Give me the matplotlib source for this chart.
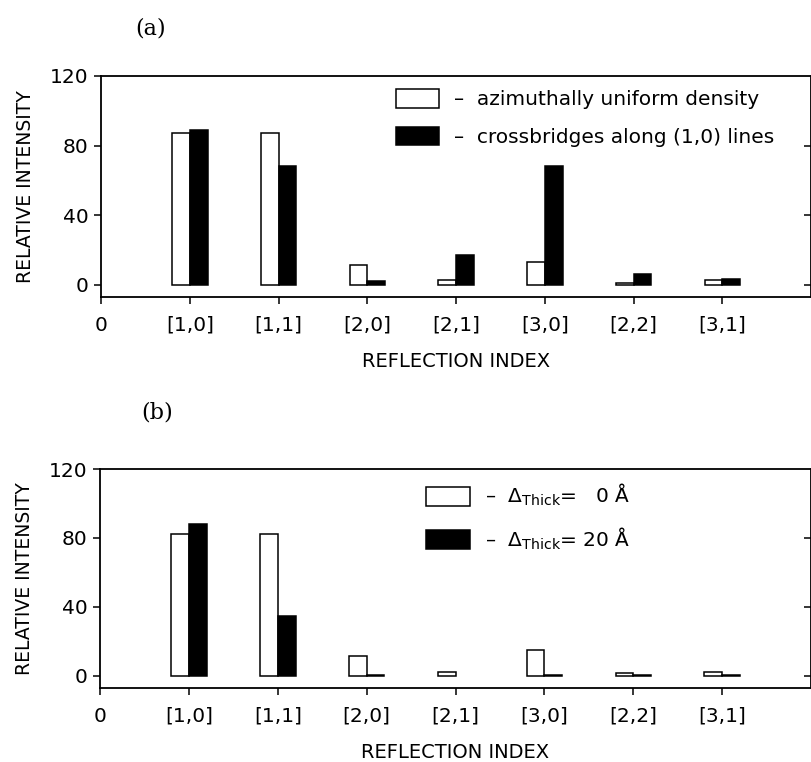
import numpy as np
import matplotlib
matplotlib.use("Agg")
import matplotlib.pyplot as plt
from matplotlib.patches import Patch

plt.rcParams['font.family'] = ['DejaVu Sans']
plt.rcParams['mathtext.fontset'] = 'dejavusans'

# reflection indices (x = 1..7), "0" sits on the left spine
tick_labels = ["0", "[1,0]", "[1,1]", "[2,0]", "[2,1]", "[3,0]", "[2,2]", "[3,1]"]

# panel (a)
a_uniform = [87, 87, 11.5, 2.5, 13, 1, 2.5]
a_cross = [89, 68, 2, 17, 68, 6, 3.5]

# panel (b)
b_thick0 = [82.5, 82.5, 11.5, 2, 15, 1.7, 2]
b_thick20 = [88, 35, 0.8, 0, 0.5, 0.4, 0.6]

labels_a = ["–  azimuthally uniform density", "–  crossbridges along (1,0) lines"]
labels_b = [r"–  $\Delta_{\rm Thick}$=   0 Å", r"–  $\Delta_{\rm Thick}$= 20 Å"]

W = 0.2
fig = plt.figure(figsize=(8.12, 7.62), dpi=100)


def panel(rect, white, black, labels, leg_x, tag, tag_xy):
    ax = fig.add_axes(rect)
    x = np.arange(1, len(white) + 1)
    ax.bar(x - W / 2, white, W, color='white', edgecolor='black', linewidth=1.1)
    lw = [1.1 if v > 0 else 0 for v in black]
    ax.bar(x + W / 2, black, W, color='black', edgecolor='black', linewidth=lw)

    ax.set_xlim(0, 8)
    ax.set_ylim(-7, 120)
    ax.set_xticks(range(len(tick_labels)))
    ax.set_xticklabels(tick_labels)
    ax.set_yticks([0, 40, 80, 120])
    ax.tick_params(axis='both', direction='out', length=5, width=1.1, labelsize=14.5)
    ax.tick_params(axis='x', pad=8.5)
    ax.tick_params(axis='y', pad=4)
    for s in ax.spines.values():
        s.set_linewidth(1.3)

    sec = ax.secondary_yaxis('right')
    sec.set_yticks([0, 40, 80])
    sec.tick_params(direction='in', length=5, width=1.1, labelright=False)

    ax.set_ylabel("RELATIVE INTENSITY", fontsize=13.5, labelpad=11)
    ax.set_xlabel("REFLECTION INDEX", fontsize=14, labelpad=12.5)

    handles = [Patch(facecolor='white', edgecolor='black', linewidth=1.1),
               Patch(facecolor='black', edgecolor='black', linewidth=1.1)]
    ax.legend(handles, labels, loc='upper left', bbox_to_anchor=(leg_x, 0.94),
              frameon=False, fontsize=14.5, handlelength=2.15, handleheight=1.05,
              handletextpad=0.75, labelspacing=0.85, borderpad=0, borderaxespad=0)

    fig.text(tag_xy[0], tag_xy[1], tag, family='DejaVu Serif', fontsize=16,
             ha='center', va='center')
    return ax


panel([0.1244, 0.6102, 0.8744, 0.2901], a_uniform, a_cross, labels_a, 0.415,
      "(a)", (151 / 812, 1 - 28 / 762))
panel([0.1232, 0.0971, 0.8756, 0.2874], b_thick0, b_thick20, labels_b, 0.459,
      "(b)", (157 / 812, 1 - 412 / 762))

fig.savefig("out.png", dpi=100)
